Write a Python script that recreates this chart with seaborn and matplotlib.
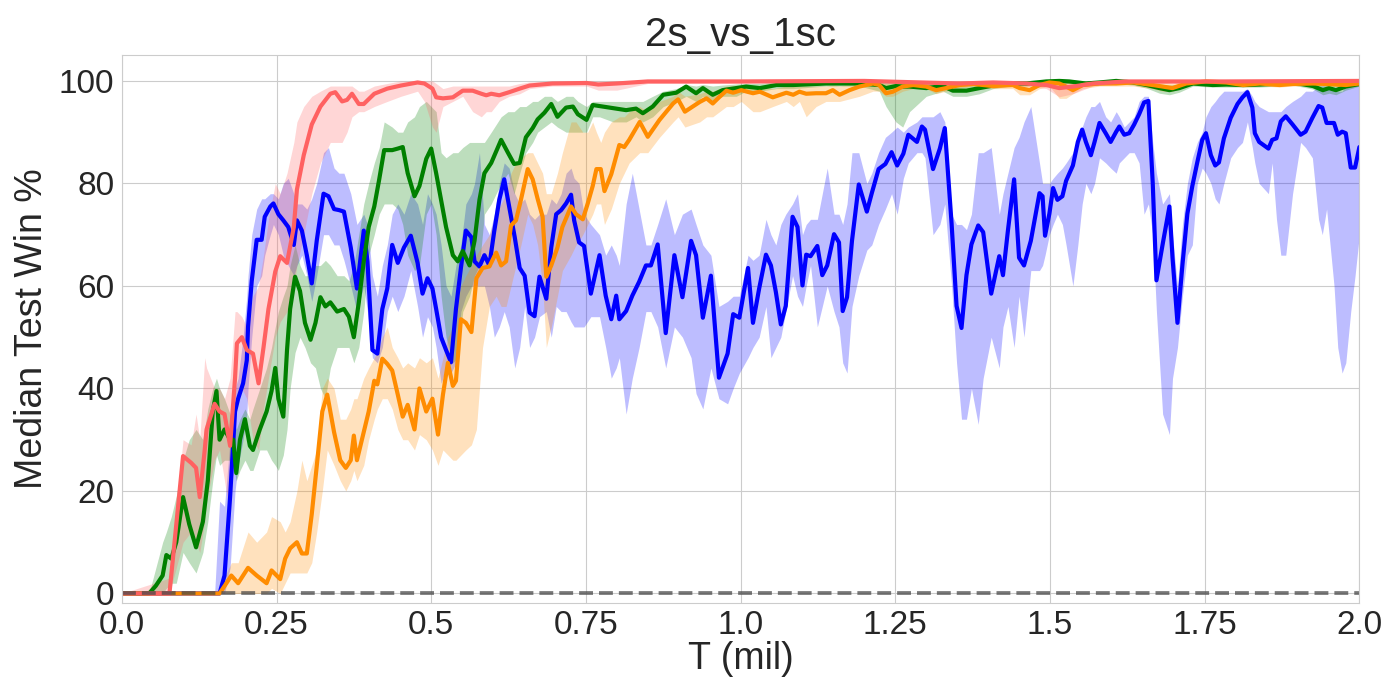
import pandas as pd
import matplotlib
matplotlib.use('Agg')
import matplotlib.pyplot as plt
import seaborn as sb

# ---- data ----
title = '2s_vs_1sc'
x_label = 'T (mil)'
y_label = 'Median Test Win %'
x_ticks = [0.0, 0.25, 0.5, 0.75, 1.0, 1.25, 1.5, 1.75, 2.0]
x_tick_labels = ['0.0', '0.25', '0.5', '0.75', '1.0', '1.25', '1.5', '1.75', '2.0']
y_ticks = [0, 20, 40, 60, 80, 100]

blue_t = [0.000, 0.150, 0.158, 0.166, 0.175, 0.183, 0.188, 0.196, 0.202, 0.204,
          0.210, 0.218, 0.226, 0.231, 0.240, 0.245, 0.253, 0.261, 0.269, 0.278,
          0.283, 0.291, 0.299, 0.307, 0.315, 0.326, 0.334, 0.343, 0.351, 0.359,
          0.370, 0.380, 0.391, 0.397, 0.405, 0.413, 0.421, 0.429, 0.437, 0.446,
          0.456, 0.467, 0.478, 0.486, 0.494, 0.502, 0.508, 0.516, 0.524, 0.532,
          0.540, 0.548, 0.556, 0.565, 0.570, 0.578, 0.586, 0.594, 0.602, 0.610,
          0.618, 0.626, 0.635, 0.643, 0.651, 0.659, 0.667, 0.675, 0.686, 0.694,
          0.702, 0.710, 0.718, 0.726, 0.731, 0.739, 0.747, 0.758, 0.772, 0.782,
          0.791, 0.799, 0.804, 0.815, 0.825, 0.836, 0.847, 0.855, 0.866, 0.879,
          0.893, 0.906, 0.920, 0.928, 0.939, 0.952, 0.965, 0.979, 0.988, 0.998,
          1.012, 1.020, 1.030, 1.041, 1.049, 1.057, 1.065, 1.073, 1.084, 1.092,
          1.100, 1.106, 1.113, 1.124, 1.132, 1.140, 1.151, 1.159, 1.165, 1.172,
          1.180, 1.191, 1.204, 1.212, 1.223, 1.234, 1.244, 1.253, 1.263, 1.271,
          1.285, 1.293, 1.298, 1.311, 1.322, 1.330, 1.341, 1.349, 1.357, 1.365,
          1.373, 1.384, 1.392, 1.405, 1.418, 1.424, 1.432, 1.442, 1.450, 1.458,
          1.469, 1.483, 1.488, 1.492, 1.499, 1.505, 1.512, 1.520, 1.526, 1.537,
          1.545, 1.552, 1.558, 1.566, 1.572, 1.580, 1.590, 1.598, 1.607, 1.612,
          1.620, 1.628, 1.636, 1.644, 1.652, 1.659, 1.666, 1.672, 1.682, 1.693,
          1.698, 1.706, 1.714, 1.722, 1.730, 1.738, 1.746, 1.752, 1.760, 1.767,
          1.773, 1.781, 1.792, 1.803, 1.811, 1.819, 1.827, 1.831, 1.838, 1.853,
          1.859, 1.866, 1.873, 1.881, 1.892, 1.905, 1.913, 1.924, 1.934, 1.940,
          1.947, 1.959, 1.965, 1.972, 1.978, 1.986, 1.993, 2.000]
blue_med = [0, 0, 0, 3.5, 18.8, 35.5, 38, 41, 45.5, 52,
            61, 69, 69, 73.5, 75.5, 76.1, 74, 72.8, 71.5, 68,
            72.8, 70.8, 66, 60.5, 68.8, 78, 77.5, 75, 74.8, 74.5,
            67.5, 59.5, 70.8, 64.8, 47.5, 46.8, 55.5, 59.5, 68, 64.5,
            67.5, 69.8, 64.5, 58.5, 61.5, 59.5, 55.5, 50, 47.5, 45.1,
            55.5, 63.5, 70.8, 69.5, 64.8, 63.8, 66, 64, 70.8, 76.8,
            80.8, 75.5, 69.5, 63.5, 62, 54.8, 54.1, 61.8, 57.5, 67.5,
            74, 74.8, 76.1, 77.8, 72.8, 68.5, 67.8, 58.5, 66, 58.1,
            53.5, 58.1, 53.5, 55.1, 58.1, 60.8, 64, 64, 68.1, 50.8,
            66, 57.8, 68.8, 66, 53.8, 62, 42.1, 46.8, 54.5, 53.8,
            63.5, 52.8, 59.5, 66.1, 64, 58.8, 52.5, 56.1, 73.5, 71.5,
            60.1, 66.1, 65.8, 67.8, 62.1, 64, 70.1, 68.5, 55.1, 57.8,
            68.8, 79.8, 74.5, 78.1, 82.8, 83.8, 86.1, 83.5, 85.8, 89.5,
            88.1, 91.1, 90.5, 82.8, 86.8, 90.8, 72.1, 56.1, 51.8, 62.1,
            68.1, 71.8, 70.5, 58.5, 65.8, 62.1, 70.8, 80.8, 65.5, 64,
            68.8, 78.1, 77.5, 69.8, 74.1, 79.1, 76.8, 77.5, 80.5, 83.5,
            88.1, 90.5, 88.1, 85.5, 88.1, 91.8, 89.8, 88.1, 90.1, 91.1,
            89.5, 89.8, 91.5, 93.5, 95.8, 96.1, 80.1, 61.1, 68.1, 75.5,
            65.5, 52.8, 64.1, 74.1, 79.5, 84.1, 88.5, 89.8, 85.5, 83.5,
            84.1, 88.8, 92.8, 95.5, 96.8, 97.8, 94.8, 89.8, 88.1, 86.8,
            88.5, 88.8, 92.1, 93.1, 91.5, 89.5, 90.1, 92.8, 95.1, 94.8,
            91.8, 91.8, 89.5, 90.1, 89.8, 83.1, 83.1, 87.1]
blue_lo = [0, 0, 0, 0, 5, 20, 25, 30, 35, 40,
           50, 60, 62, 66, 70, 72, 70, 66, 64, 62,
           64, 66, 62, 57, 62, 70, 70, 68, 68, 65,
           60, 55, 60, 55, 46, 45, 48, 55, 58, 55,
           58, 63, 56, 50, 54, 52, 48, 41, 44, 43,
           45, 55, 58, 60, 60, 60, 60, 56, 50, 52,
           55, 52, 44, 48, 56, 48, 50, 54, 55, 50,
           56, 55, 55, 53, 52, 52, 52, 54, 54, 48,
           42, 44, 46, 35, 42, 48, 55, 55, 52, 44,
           52, 50, 46, 39, 36, 44, 38, 37, 40, 43,
           46, 48, 50, 56, 46, 48, 50, 55, 62, 58,
           56, 60, 64, 52, 56, 60, 55, 52, 45, 43,
           56, 62, 67, 68, 72, 75, 78, 74, 81, 84,
           86, 86, 85, 70, 72, 76, 60, 45, 34, 34,
           40, 33, 42, 50, 44, 52, 56, 48, 58, 50,
           63, 63, 64, 66, 70, 72, 74, 72, 68, 60,
           68, 76, 80, 78, 80, 85, 84, 83, 82, 84,
           85, 86, 86, 84, 74, 76, 70, 55, 35, 31,
           42, 48, 58, 66, 68, 80, 83, 82, 80, 77,
           76, 80, 85, 87, 88, 92, 87, 84, 80, 78,
           84, 73, 66, 66, 78, 88, 87, 85, 73, 70,
           75, 60, 48, 43, 45, 55, 62, 70]
blue_hi = [0, 0, 18, 17, 30, 40, 42, 50, 58, 62,
           70, 75, 77, 77, 78, 78, 77, 80, 81, 78,
           76, 76, 75, 77, 80, 86, 87, 83, 82, 82,
           78, 72, 74, 72, 62, 58, 64, 68, 74, 76,
           74, 78, 76, 72, 78, 76, 74, 68, 60, 58,
           64, 68, 76, 78, 80, 86, 72, 70, 74, 80,
           84, 83, 78, 76, 77, 74, 73, 74, 74, 77,
           76, 78, 82, 83, 81, 80, 74, 72, 70, 66,
           68, 66, 64, 76, 82, 75, 68, 68, 72, 77,
           70, 74, 75, 72, 68, 66, 56, 57, 58, 58,
           66, 65, 66, 73, 70, 68, 72, 74, 76, 78,
           70, 72, 73, 73, 78, 83, 74, 74, 72, 76,
           86, 86, 80, 82, 86, 89, 90, 91, 90, 91,
           92, 93, 93, 93, 94, 92, 74, 72, 72, 71,
           74, 86, 86, 87, 74, 78, 82, 87, 89, 92,
           95, 84, 80, 80, 80, 81, 82, 83, 84, 86,
           89, 91, 93, 95, 95, 96, 93, 92, 94, 93,
           91, 92, 93, 96, 97, 97, 88, 82, 76, 78,
           70, 60, 72, 80, 85, 88, 90, 93, 95, 96,
           97, 98, 98, 98, 98, 98.5, 97, 96, 95, 94,
           94, 94, 94, 95, 96, 97, 98, 98, 99, 99,
           99, 98, 98, 98, 99, 99, 99, 99.5]

green_t = [0.000, 0.044, 0.055, 0.066, 0.072, 0.080, 0.088, 0.099, 0.109, 0.120,
           0.131, 0.139, 0.147, 0.153, 0.158, 0.166, 0.175, 0.180, 0.185, 0.191,
           0.199, 0.207, 0.212, 0.223, 0.234, 0.242, 0.248, 0.253, 0.261, 0.267,
           0.272, 0.280, 0.288, 0.296, 0.305, 0.313, 0.321, 0.329, 0.337, 0.348,
           0.359, 0.367, 0.375, 0.383, 0.391, 0.399, 0.408, 0.416, 0.424, 0.437,
           0.446, 0.454, 0.462, 0.473, 0.481, 0.492, 0.500, 0.508, 0.516, 0.524,
           0.535, 0.543, 0.551, 0.562, 0.570, 0.578, 0.586, 0.597, 0.613, 0.624,
           0.634, 0.643, 0.653, 0.664, 0.672, 0.683, 0.694, 0.704, 0.718, 0.729,
           0.737, 0.751, 0.761, 0.772, 0.794, 0.815, 0.831, 0.842, 0.858, 0.875,
           0.896, 0.912, 0.928, 0.939, 0.955, 0.971, 0.993, 1.009, 1.031, 1.058,
           1.085, 1.138, 1.192, 1.224, 1.235, 1.251, 1.262, 1.273, 1.300, 1.327,
           1.343, 1.365, 1.386, 1.408, 1.435, 1.462, 1.494, 1.515, 1.531, 1.558,
           1.580, 1.607, 1.634, 1.656, 1.677, 1.693, 1.709, 1.731, 1.763, 1.785,
           1.812, 1.839, 1.871, 1.892, 1.925, 1.941, 1.951, 1.962, 1.978, 2.000]
green_med = [0, 0, 1.5, 3.5, 7.5, 6.8, 10, 18.8, 13.5, 9,
             14, 22, 35.5, 39.5, 30, 32, 30, 30, 23.5, 30,
             34, 28.8, 28, 32, 35.5, 39.5, 44, 38, 34.5, 47.5,
             55.5, 61.8, 59, 52.8, 49.5, 52.8, 57.8, 56, 56.8, 55,
             55.5, 54, 50, 56.8, 64.8, 71.5, 75.5, 80.8, 86.5, 86.5,
             86.8, 87.1, 82, 77.5, 79.5, 84.8, 86.8, 82, 76.8, 71.5,
             66, 64.8, 66.8, 64, 68.8, 76.8, 82, 84, 88.5, 86,
             83.8, 84, 89, 90.8, 92.5, 93.8, 95.5, 93, 94.8, 95,
             93.5, 92.4, 95.3, 95.1, 94.7, 94.3, 94.6, 93.7, 95, 97.3,
             97.7, 98.9, 97.6, 98.6, 97.3, 98.2, 98.6, 98.9, 98.6, 99.2,
             99.2, 99.5, 99.5, 99.2, 98.6, 99.0, 98.9, 98.9, 98.6, 99.0,
             98.1, 98.1, 98.6, 99.1, 99.5, 99.5, 99.9, 100, 99.9, 99.5,
             99.7, 100, 99.7, 99.2, 98.6, 98.2, 98.6, 99.5, 99.2, 99.3,
             99.2, 99.3, 99.5, 99.7, 99.0, 98.2, 98.6, 98.2, 98.9, 99.4]
green_lo = [0, 0, 0, 0, 1, 2, 2, 8, 6, 4,
            8, 14, 22, 27, 25, 26, 26, 25, 22, 24,
            26, 24, 24, 28, 28, 26, 25, 24, 27, 32,
            40, 47, 50, 48, 45, 44, 40, 38, 44, 48,
            48, 48, 45, 48, 55, 66, 70, 74, 76, 76,
            75, 72, 66, 63, 64, 74, 76, 70, 58, 50,
            45, 46, 55, 58, 62, 64, 74, 76, 80, 82,
            78, 82, 86, 88, 90, 91, 92, 91, 90, 90,
            90, 90, 93, 93, 92, 92, 93, 92, 93, 95,
            96, 97, 96, 97, 96, 97, 97, 98, 98, 98.5,
            98.5, 99, 99, 98, 95, 92, 91, 94, 97, 98,
            97, 97, 97.5, 98.5, 99, 99, 99.5, 99.5, 99.5, 99,
            99.2, 99.5, 99.2, 98.6, 97.6, 97.3, 97.8, 99, 98.8, 98.8,
            98.8, 98.8, 99, 99.2, 98.4, 97.3, 97.6, 97.3, 98.2, 99]
green_hi = [0, 0, 5, 10, 12, 15, 19, 26, 30, 32,
            30, 36, 40, 42, 40, 38, 35, 34, 32, 34,
            36, 34, 36, 40, 44, 48, 52, 55, 58, 60,
            64, 68, 64, 62, 62, 64, 64, 65, 64, 62,
            62, 61, 64, 70, 76, 80, 84, 87, 92, 91,
            90, 90, 92, 93, 95, 96, 95, 94, 86, 85,
            86, 86, 87, 88, 88, 88, 88, 90, 93, 94,
            94, 95, 95, 96, 96, 97, 97, 96, 97, 97,
            96, 95, 96, 96, 96, 96, 96, 96, 97, 98,
            98.5, 99.3, 99, 99.3, 99, 99.2, 99.4, 99.5, 99.5, 99.8,
            99.8, 100, 100, 100, 99.8, 99.8, 99.8, 99.8, 99.5, 99.8,
            99.5, 99.3, 99.3, 99.6, 100, 100, 100, 100, 100, 100,
            100, 100, 100, 99.8, 99.4, 99.2, 99.4, 100, 99.8, 99.8,
            99.7, 99.8, 100, 100, 99.7, 99.2, 99.3, 99.2, 99.5, 99.8]

orange_t = [0.000, 0.158, 0.169, 0.177, 0.188, 0.204, 0.218, 0.234, 0.242, 0.256,
            0.264, 0.272, 0.283, 0.291, 0.299, 0.307, 0.315, 0.324, 0.332, 0.343,
            0.353, 0.362, 0.370, 0.375, 0.380, 0.391, 0.399, 0.408, 0.413, 0.421,
            0.429, 0.437, 0.446, 0.454, 0.462, 0.473, 0.481, 0.492, 0.502, 0.511,
            0.519, 0.527, 0.535, 0.540, 0.548, 0.556, 0.565, 0.573, 0.583, 0.594,
            0.605, 0.613, 0.621, 0.629, 0.637, 0.645, 0.656, 0.664, 0.672, 0.680,
            0.686, 0.694, 0.704, 0.712, 0.726, 0.734, 0.745, 0.753, 0.761, 0.767,
            0.774, 0.780, 0.791, 0.804, 0.812, 0.820, 0.837, 0.850, 0.869, 0.891,
            0.899, 0.910, 0.934, 0.945, 0.955, 0.966, 0.977, 0.988, 1.001, 1.020,
            1.031, 1.052, 1.074, 1.085, 1.095, 1.106, 1.122, 1.138, 1.149, 1.160,
            1.176, 1.192, 1.214, 1.224, 1.235, 1.246, 1.262, 1.279, 1.300, 1.316,
            1.332, 1.354, 1.376, 1.408, 1.440, 1.451, 1.467, 1.483, 1.499, 1.515,
            1.526, 1.537, 1.553, 1.580, 1.607, 1.634, 1.666, 1.682, 1.698, 1.720,
            1.752, 1.785, 1.812, 1.839, 1.871, 1.892, 1.925, 1.946, 1.978, 2.000]
orange_med = [0, 0, 2, 3.5, 2, 5, 3.5, 2, 4.5, 2.8,
              6.8, 8.8, 10, 7.8, 7.8, 15.5, 24.8, 35.5, 38.8, 31.5,
              26, 24.5, 26, 30.8, 26, 31.5, 35.5, 41.5, 40.8, 45.8,
              44.8, 43.5, 38.8, 34.5, 36.8, 32, 40, 35.5, 38, 31,
              38.8, 45, 40.5, 41.5, 53.5, 52.8, 51, 61.5, 63.5, 63.8,
              66.5, 64, 64.8, 71.8, 72.8, 76.8, 82.8, 80.8, 77, 73.5,
              61.8, 64, 67.5, 71.5, 75.5, 74, 73, 76.1, 79.5, 82.8,
              82.8, 78.5, 81.8, 87.5, 87.1, 88.5, 92.0, 89.1, 92.4, 95.6,
              96.4, 94.0, 95.9, 96.6, 95.6, 96.9, 98.1, 97.7, 98.2, 97.6,
              97.9, 96.8, 97.7, 97.3, 97.9, 97.5, 97.6, 97.6, 98.2, 97.3,
              98.2, 98.9, 99.5, 99.2, 97.6, 97.9, 98.9, 99.2, 98.9, 98.2,
              98.6, 99.2, 99.4, 99.0, 99.2, 98.6, 98.2, 99.2, 99.7, 99.5,
              98.9, 98.2, 99.2, 99.5, 99.5, 99.7, 99.2, 98.9, 98.6, 99.5,
              99.9, 99.7, 99.2, 99.5, 99.2, 99.4, 99.5, 99.4, 99.2, 99.5]
orange_lo = [0, 0, 0, 0, 0, 0, 0, 0, 1, 0,
             2, 4, 4, 4, 4, 6, 12, 20, 28, 25,
             22, 20, 22, 24, 22, 25, 30, 34, 36, 38,
             38, 36, 32, 30, 30, 28, 31, 30, 28, 25,
             28, 27, 26, 26, 27, 28, 29, 32, 48, 56,
             58, 56, 56, 60, 64, 68, 74, 72, 68, 60,
             48, 52, 58, 63, 66, 68, 70, 72, 74, 76,
             76, 72, 75, 80, 82, 84, 86, 86, 89, 92,
             93, 91, 92, 93, 93, 94, 95, 95, 96, 94,
             94, 95, 96, 95, 96, 93, 95, 96, 96, 96,
             96.5, 97, 98, 98, 97, 97, 98, 98.5, 98.5, 97.5,
             98, 98.5, 99, 98.5, 98.5, 97.3, 97.3, 98.5, 99, 96.6,
             96.6, 97.5, 98.5, 99, 99, 99, 98.5, 98, 98, 99,
             99.5, 99.2, 98.8, 99, 98.8, 99, 99, 99, 98.8, 99]
orange_hi = [0, 0, 4, 6, 6, 12, 10, 12, 15, 14,
             12, 14, 20, 26, 22, 25, 28, 40, 42, 40,
             34, 34, 36, 38, 38, 42, 44, 46, 47, 50,
             52, 48, 46, 44, 45, 44, 46, 45, 46, 42,
             46, 50, 52, 56, 60, 62, 64, 66, 68, 70,
             74, 76, 78, 82, 84, 85, 86, 86, 84, 82,
             78, 78, 82, 86, 92, 92, 90, 90, 92, 90,
             88, 90, 92, 93, 93, 94, 95, 94, 96, 97,
             98, 97, 97.5, 98, 98, 98.5, 99, 99, 99, 98.8,
             99, 98.5, 99, 99, 99, 99, 99, 99, 99.2, 99,
             99.3, 99.5, 100, 99.8, 99.5, 99.5, 99.8, 100, 99.8, 99.5,
             99.5, 100, 100, 99.8, 99.8, 99.5, 99.5, 99.8, 100, 100,
             99.8, 99.5, 99.8, 100, 100, 100, 99.8, 99.8, 99.5, 100,
             100, 100, 100, 100, 100, 100, 100, 100, 100, 100]

red_t = [0.000, 0.077, 0.099, 0.112, 0.120, 0.126, 0.134, 0.137, 0.150, 0.158,
         0.166, 0.175, 0.183, 0.186, 0.194, 0.202, 0.212, 0.221, 0.229, 0.237,
         0.248, 0.256, 0.267, 0.278, 0.283, 0.294, 0.307, 0.321, 0.337, 0.345,
         0.356, 0.364, 0.372, 0.383, 0.391, 0.408, 0.429, 0.451, 0.478, 0.489,
         0.502, 0.508, 0.519, 0.535, 0.551, 0.567, 0.581, 0.589, 0.597, 0.610,
         0.626, 0.643, 0.659, 0.696, 0.751, 0.770, 0.800, 0.850, 1.000, 1.200,
         1.354, 1.408, 1.462, 1.494, 1.515, 1.537, 1.569, 1.623, 1.785, 2.000]
red_med = [0, 0, 26.8, 25.5, 24.5, 18.8, 28, 32, 37, 35.5,
           35, 28.8, 42, 48.8, 50, 47.5, 46.8, 41, 48, 55.5,
           62.8, 65.8, 64.5, 71.5, 78.8, 85.5, 91.5, 95, 97.5, 97.8,
           96, 96.3, 97.5, 95.5, 95.5, 97.5, 98.5, 99.1, 99.7, 99.5,
           98.5, 96.8, 96.6, 96.8, 98.1, 98.1, 97.5, 97.2, 97.5, 97.2,
           97.8, 98.5, 99.1, 99.5, 99.6, 99.3, 99.5, 99.9, 99.9, 100,
           99.5, 99.7, 99.5, 99.2, 98.6, 98.9, 99.5, 99.9, 99.9, 100]
red_lo = [0, 0, 10, 12, 10, 8, 14, 18, 26, 28,
          22, 15, 30, 38, 40, 38, 30, 28, 36, 42,
          50, 53, 55, 60, 64, 70, 78, 84, 88, 88,
          88, 90, 93, 94, 94, 95, 96, 97, 98, 96,
          91, 90, 95, 96, 97, 94, 93, 94, 94, 96,
          97, 97.5, 98.5, 99, 99, 98.2, 98.2, 99.5, 99.5, 99.8,
          99, 99.3, 99, 98.5, 96.9, 97.5, 99, 99.5, 99.5, 99.8]
red_hi = [0, 3, 30, 29, 35, 30, 46, 44, 40, 40,
          38, 42, 55, 55, 54, 52, 58, 60, 66, 73,
          80, 78, 82, 88, 92, 95, 97, 98, 99, 99,
          99, 99, 99, 98, 98, 99, 99.5, 100, 100, 100,
          100, 99.5, 98.5, 99, 99, 99, 99, 99, 99, 99,
          99, 99.5, 99.8, 100, 100, 100, 100, 100, 100, 100,
          100, 100, 100, 100, 99.8, 99.8, 100, 100, 100, 100]

baseline_t = [0.0, 2.0]
baseline_v = [0, 0]

# ---- style ----
sb.set_style('whitegrid')
plt.rcParams['font.family'] = ['Liberation Sans', 'DejaVu Sans']

fig = plt.figure(figsize=(14, 7), dpi=100)
ax = fig.add_axes([0.087, 0.139, 0.884, 0.782])

series = [
    (blue_t, blue_med, blue_lo, blue_hi, 'blue'),
    (green_t, green_med, green_lo, green_hi, 'green'),
    (orange_t, orange_med, orange_lo, orange_hi, 'darkorange'),
    (red_t, red_med, red_lo, red_hi, '#ff6161'),
]

for t, med, lo, hi, col in series:
    ax.fill_between(t, lo, hi, color=col, alpha=0.26, linewidth=0)

for t, med, lo, hi, col in series:
    df = pd.DataFrame({'t': t, 'v': med})
    sb.lineplot(data=df, x='t', y='v', color=col, linewidth=3.0, ax=ax, sort=False)

sb.lineplot(x=baseline_t, y=baseline_v, color='#4a4a4a', linestyle='--',
            linewidth=2.7, alpha=0.75, ax=ax)

ax.set_xlim(0, 2.0)
ax.set_ylim(-1.8, 105)
ax.set_xticks(x_ticks)
ax.set_xticklabels(x_tick_labels)
ax.set_yticks(y_ticks)
ax.tick_params(labelsize=24, pad=2)
ax.set_xlabel(x_label, fontsize=27, labelpad=0)
ax.set_ylabel(y_label, fontsize=27, labelpad=6)
ax.set_title(title, fontsize=29, pad=7)

fig.savefig('out.png', dpi=100)
